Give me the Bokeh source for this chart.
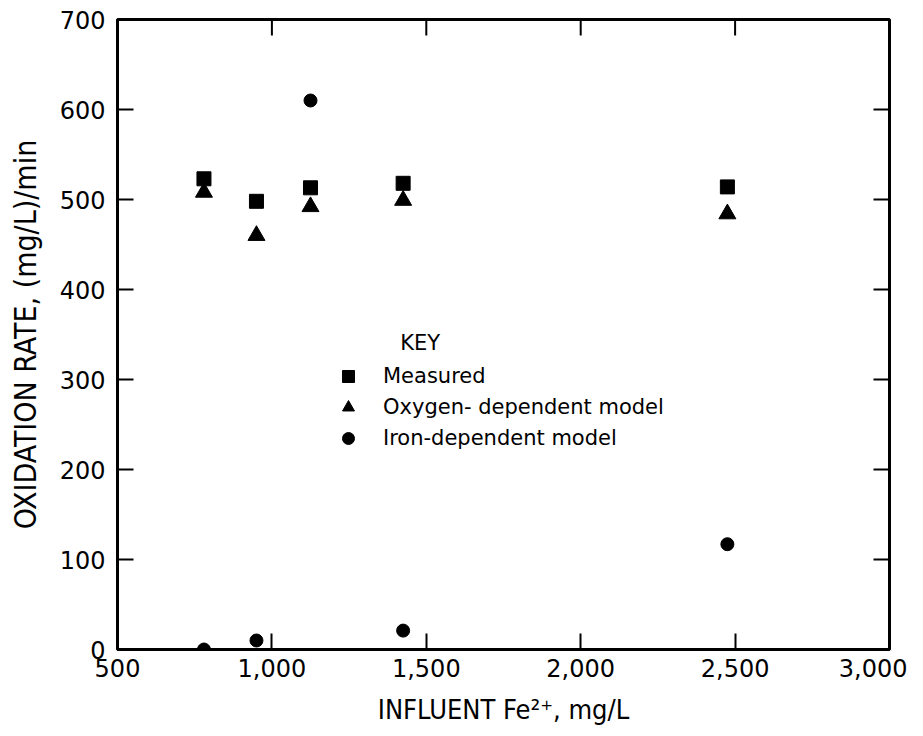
import math
from bokeh.plotting import figure
from bokeh.models import (Range1d, LinearAxis, FixedTicker, NumeralTickFormatter,
                          Legend, LegendItem, Label, ColumnDataSource)
from bokeh.embed import file_html
from bokeh.resources import INLINE

# Data
fe_influent = [780, 950, 1125, 1425, 2475]
measured = [523, 498, 513, 518, 514]
oxygen_model = [508, 460, 492, 499, 484]
iron_model = [0, 10, 610, 21, 117]

x_ticks = [500, 1000, 1500, 2000, 2500, 3000]
y_ticks = [0, 100, 200, 300, 400, 500, 600, 700]
x_min, x_max = 500, 3000
y_min, y_max = 0, 700

FONT = "DejaVu Sans"
LABEL_FONT = "DejaVu Sans Condensed"

p = figure(frame_width=772, frame_height=630, output_backend="svg", toolbar_location=None,
           x_range=Range1d(x_min, x_max), y_range=Range1d(y_min, y_max),
           min_border_left=117, min_border_right=18, min_border_top=19,
           min_border_bottom=71, x_axis_type=None, y_axis_type=None)
p.xgrid.visible = False
p.ygrid.visible = False
p.outline_line_color = "black"
p.outline_line_width = 3
p.background_fill_color = "white"
p.border_fill_color = "white"

def style_axis(ax, ticks):
    ax.ticker = FixedTicker(ticks=ticks)
    ax.axis_line_color = "black"
    ax.axis_line_width = 3
    ax.major_tick_line_color = "black"
    ax.major_tick_line_width = 2
    ax.major_tick_in = 16
    ax.major_tick_out = 0
    ax.minor_tick_line_color = None
    ax.major_label_text_font = FONT
    ax.major_label_text_font_size = "24px"
    ax.major_label_text_color = "black"
    ax.axis_label_text_color = "black"
    ax.axis_label_text_font = LABEL_FONT
    ax.axis_label_text_font_style = "normal"

xb = LinearAxis(axis_label="INFLUENT Fe\u00b2\u207a, mg/L")
style_axis(xb, x_ticks)
xb.formatter = NumeralTickFormatter(format="0,0")
xb.major_label_standoff = 9
xb.axis_label_standoff = 14
xb.axis_label_text_font_size = "27px"
p.add_layout(xb, "below")

yl = LinearAxis(axis_label="OXIDATION RATE, (mg/L)/min")
style_axis(yl, y_ticks)
yl.major_label_standoff = 12
yl.axis_label_standoff = 14
yl.axis_label_text_font_size = "30px"
p.add_layout(yl, "left")

# inward ticks on the top and right frame edges (clipped half of a dash marker)
top_src = ColumnDataSource(dict(x=x_ticks[1:-1], y=[y_max] * (len(x_ticks) - 2)))
right_src = ColumnDataSource(dict(x=[x_max] * (len(y_ticks) - 2), y=y_ticks[1:-1]))
p.scatter("x", "y", source=top_src, marker="dash", size=32, angle=math.pi / 2,
          line_color="black", line_width=2)
p.scatter("x", "y", source=right_src, marker="dash", size=32, angle=0,
          line_color="black", line_width=2)

src = ColumnDataSource(dict(x=fe_influent, m=measured, o=oxygen_model, i=iron_model))
r_m = p.scatter("x", "m", source=src, marker="square", size=14, color="black")
r_o = p.scatter("x", "o", source=src, marker="triangle", size=17, color="black")
r_i = p.scatter("x", "i", source=src, marker="circle", size=13, color="black")

legend = Legend(items=[LegendItem(label="Measured", renderers=[r_m]),
                       LegendItem(label="Oxygen- dependent model", renderers=[r_o]),
                       LegendItem(label="Iron-dependent model", renderers=[r_i])],
                location=(216, 196), padding=0, margin=0, spacing=1,
                glyph_width=30, glyph_height=30, label_height=30,
                label_standoff=20, border_line_color=None,
                background_fill_alpha=0)
legend.label_text_font = FONT
legend.label_text_font_size = "21px"
legend.label_text_color = "black"
p.add_layout(legend, "center")

key = Label(x=1480, y=341, text="KEY", text_align="center", text_baseline="middle",
            text_font=FONT, text_font_size="21px", text_color="black")
p.add_layout(key)

open("out.html", "w").write(file_html(p, INLINE))
